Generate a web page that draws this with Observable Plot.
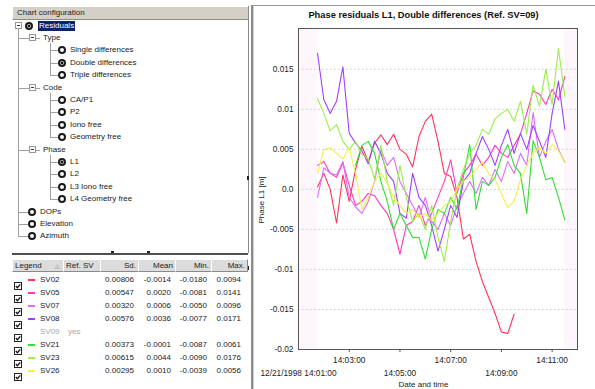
<!DOCTYPE html>
<html><head><meta charset="utf-8">
<script src="https://cdn.jsdelivr.net/npm/d3@7"></script>
<script src="https://cdn.jsdelivr.net/npm/@observablehq/plot@0.6"></script>
<style>
body{margin:0;width:595px;height:389px;overflow:hidden;background:#fff;font-family:"Liberation Sans",Arial,sans-serif;position:relative;color:#222}
.a{position:absolute;white-space:nowrap}
.t{font-size:8px;line-height:10px}
.radio{position:absolute;width:4px;height:4px;border:2px solid #1a1a1a;border-radius:50%;background:#fff}
.radio.sel{background:radial-gradient(circle,#111 0 38%,#bbb 45% 100%)}
.hl{position:absolute;height:1px;background:#a0a0a0}
.vl{position:absolute;width:1px;background:#a0a0a0}
.box{position:absolute;width:5px;height:5px;border:1px solid #999;background:#fff}
.box::after{content:"";position:absolute;left:1px;top:2px;width:3px;height:1px;background:#333}
.hdr{position:absolute;top:259px;height:11px;background:#dcdcdc;border-right:1px solid #8a8a8a;border-bottom:1px solid #8a8a8a;border-top:1px solid #fff;font-size:8px;line-height:11px;box-sizing:content-box}
</style></head><body>
<script>
// ---------- chart data ----------
const times = ["14:01:45","14:02:00","14:02:15","14:02:30","14:02:45","14:03:00","14:03:15","14:03:30","14:03:45","14:04:00",
"14:04:15","14:04:30","14:04:45","14:05:00","14:05:15","14:05:30","14:05:45","14:06:00","14:06:15","14:06:30",
"14:06:45","14:07:00","14:07:15","14:07:30","14:07:45","14:08:00","14:08:15","14:08:30","14:08:45","14:09:00",
"14:09:15","14:09:30","14:09:45","14:10:00","14:10:15","14:10:30","14:10:45","14:11:00","14:11:15","14:11:30"];
const sv02 = [0.0003,0.0020,0.0000,-0.0042,0.0018,-0.0015,0.0025,0.0054,0.0035,0.0058,0.0068,0.0056,0.0069,0.0050,0.0044,0.0028,0.0066,0.0085,0.0094,0.0060,0.0020,0.0016,-0.0010,-0.0062,-0.0056,-0.0090,-0.0115,-0.0135,-0.0155,-0.0178,-0.0180,-0.0156];
const sv05 = [0.0030,0.0035,0.0020,0.0015,0.0033,0.0005,-0.0020,-0.0015,-0.0005,-0.0008,-0.0020,-0.0030,-0.0050,-0.0081,-0.0045,-0.0040,-0.0020,-0.0045,-0.0030,-0.0010,0.0010,0.0037,-0.0005,0.0020,0.0030,0.0044,0.0030,0.0040,0.0055,0.0045,0.0040,0.0055,0.0069,0.0095,0.0123,0.0119,0.0106,0.0125,0.0112,0.0141];
const sv07 = [-0.0010,0.0027,0.0020,0.0018,0.0035,-0.0010,-0.0022,-0.0030,-0.0015,0.0010,0.0050,0.0030,0.0040,0.0010,-0.0005,-0.0020,-0.0035,-0.0010,-0.0040,-0.0050,-0.0030,-0.0045,-0.0020,-0.0005,0.0010,-0.0005,0.0015,0.0005,0.0025,0.0010,0.0035,0.0020,0.0045,0.0030,0.0096,0.0040,0.0060,0.0075,0.0050,0.0034];
const sv08 = [0.0170,0.0112,0.0095,0.0110,0.0153,0.0070,0.0058,0.0048,0.0032,0.0060,0.0045,0.0020,0.0010,-0.0030,-0.0036,0.0020,-0.0010,-0.0020,-0.0045,-0.0077,-0.0050,-0.0020,-0.0035,0.0010,0.0020,0.0045,0.0066,0.0050,0.0030,0.0055,0.0075,0.0045,0.0070,0.0050,0.0080,0.0060,0.0040,0.0095,0.0135,0.0075];
const sv21 = [null,null,null,null,null,null,0.0030,0.0055,0.0060,0.0045,0.0010,-0.0015,-0.0050,-0.0030,-0.0045,-0.0060,-0.0060,-0.0087,-0.0050,-0.0025,-0.0030,-0.0010,-0.0025,0.0015,0.0056,-0.0025,0.0010,0.0005,0.0015,0.0040,0.0056,0.0030,0.0020,-0.0030,0.0061,0.0040,0.0012,0.0015,-0.0010,-0.0038];
const sv23 = [0.0113,0.0095,0.0073,0.0081,0.0060,0.0050,0.0060,0.0044,0.0038,0.0013,0.0055,0.0010,-0.0020,0.0030,-0.0010,-0.0040,-0.0030,-0.0050,-0.0020,-0.0060,-0.0090,-0.0040,0.0000,0.0025,0.0045,0.0055,0.0075,0.0069,0.0088,0.0095,0.0100,0.0085,0.0110,0.0069,0.0130,0.0104,0.0150,0.0106,0.0176,0.0116];
const sv26 = [0.0020,0.0050,0.0052,0.0045,0.0038,0.0052,0.0020,-0.0025,-0.0010,0.0010,0.0020,0.0008,-0.0010,-0.0020,-0.0030,-0.0025,-0.0035,-0.0030,-0.0039,-0.0030,-0.0020,-0.0015,0.0000,0.0010,0.0015,0.0025,0.0034,0.0020,0.0012,-0.0005,-0.0023,-0.0015,0.0012,0.0030,0.0045,0.0052,0.0045,0.0056,0.0048,0.0035];
const plotted = ["SV02","SV05","SV07","SV08","SV21","SV23","SV26"];
const plottedValues = [sv02,sv05,sv07,sv08,sv21,sv23,sv26];
const colors = ["#ff3358","#ff38c0","#dd6cff","#a040ff","#33dd33","#9cee48","#f6ee48"];
const yTicks = [-0.02,-0.015,-0.01,-0.005,0,0.005,0.01,0.015];
const xTickRow1 = ["14:03:00","14:07:00","14:11:00"];
const xTickRow2 = ["14:01:00","14:05:00","14:09:00"];
const xDomain = ["14:01:00","14:12:00"];
const yDomain = [-0.02,0.0201];
// legend table
const svNames = ["SV02","SV05","SV07","SV08","SV09","SV21","SV23","SV26"];
const refSV = ["","","","","yes","","",""];
const sdVals = ["0.00806","0.00547","0.00320","0.00576","","0.00373","0.00615","0.00295"];
const meanVals = ["-0.0014","0.0020","0.0006","0.0036","","-0.0001","0.0044","0.0010"];
const minVals = ["-0.0180","-0.0081","-0.0050","-0.0077","","-0.0087","-0.0090","-0.0039"];
const maxVals = ["0.0094","0.0141","0.0096","0.0171","","0.0061","0.0176","0.0056"];
// tree
const treeNodes = [["Residuals","root",true],["Type","group"],["Single differences","leaf2",false],["Double differences","leaf2",true],["Triple differences","leaf2",false],
["Code","group"],["CA/P1","leaf2"],["P2","leaf2"],["Iono free","leaf2"],["Geometry free","leaf2"],
["Phase","group"],["L1","leaf2",true],["L2","leaf2"],["L3 Iono free","leaf2"],["L4 Geometry free","leaf2"],
["DOPs","leaf1"],["Elevation","leaf1"],["Azimuth","leaf1"]];

// ---------- helpers ----------
const body = document.body;
function el(cls, css, text){const d=document.createElement("div");d.className=cls;Object.assign(d.style,css);if(text!=null)d.textContent=text;body.appendChild(d);return d;}
const px = v => v+"px";

// ---------- left panel ----------
el("a t",{left:"12px",top:"6px",background:"#d4d0c8",border:"1px solid #8a8a8a",borderTopColor:"#fff",borderLeftColor:"#fff",lineHeight:"12px",paddingLeft:"4px",boxSizing:"border-box",width:"237px",height:"14px"},"Chart configuration");
el("vl",{left:"248px",top:"6px",height:"247px",background:"#8a8a8a"});
const rowY = k => 25.5 + 12.4*k;
const lastY = rowY(treeNodes.length-1);
el("vl",{left:"18px",top:"29px",height:px(lastY-29)});
treeNodes.forEach((n,k)=>{
  const y = rowY(k), [label,kind,sel] = n;
  if(kind==="root"){
    el("box",{left:"15px",top:px(y-3.5)});
    el("radio"+(sel?" sel":""),{left:px(29-4),top:px(y-4)});
    el("a t",{left:"38px",top:px(y-5),background:"#0a246a",color:"#fff",padding:"0 1px"},label);
  } else if(kind==="group"){
    el("hl",{left:"18px",top:px(Math.round(y)),width:"11px"});
    el("box",{left:"29px",top:px(y-3.5)});
    el("hl",{left:"36px",top:px(Math.round(y)),width:"4px"});
    el("a t",{left:"43px",top:px(y-5)},label);
    let last = k; while(last+1<treeNodes.length && treeNodes[last+1][1]==="leaf2") last++;
    el("vl",{left:"50px",top:px(y+5),height:px(rowY(last)-y-5)});
  } else if(kind==="leaf2"){
    el("hl",{left:"50px",top:px(Math.round(y)),width:"8px"});
    el("radio"+(sel?" sel":""),{left:px(62-4),top:px(y-4)});
    el("a t",{left:"70px",top:px(y-5)},label);
  } else {
    el("hl",{left:"18px",top:px(Math.round(y)),width:"10px"});
    el("radio",{left:px(32-4),top:px(y-4)});
    el("a t",{left:"40px",top:px(y-5)},label);
  }
});
// splitter
el("a",{left:"12px",top:"253px",width:"236px",height:"2px",background:"#505050"});
el("a",{left:"111px",top:"251px",width:"3px",height:"2px",background:"#222"});
el("a",{left:"147px",top:"251px",width:"3px",height:"2px",background:"#222"});
el("a",{left:"247px",top:"176px",width:"2px",height:"4px",background:"#222"});
el("a",{left:"247px",top:"266px",width:"2px",height:"4px",background:"#222"});
// table header
const cols = [[12,63,"Legend","left"],[63,100,"Ref. SV","left"],[100,138,"Sd.","right"],[138,175,"Mean","right"],[175,211,"Min.","right"],[211,247,"Max.","right"]];
cols.forEach(([x0,x1,lab,al])=>{
  el("hdr",{left:px(x0),width:px(x1-x0-5),paddingLeft:"2px",paddingRight:"2px",textAlign:al,borderLeft:"1px solid #fff"},lab);
});
el("a",{left:"55px",top:"262px",fontSize:"6px",color:"#777"},"△");
// rows
const colRight = [134,171,207,241];
svNames.forEach((name,i)=>{
  const y = 280 + 13*i;
  const cb = el("a",{left:"14px",top:px(y-4),width:"8px",height:"8px"});
  cb.innerHTML = '<svg width="8" height="8"><rect x="0.5" y="0.5" width="7" height="7" fill="#fff" stroke="#222"/><path d="M1.8 4 L3.4 5.7 L6.3 2.3" stroke="#111" stroke-width="1.3" fill="none"/></svg>';
  const pi = plotted.indexOf(name);
  if(pi>=0) el("a",{left:"28px",top:px(y-1),width:"7px",height:"2px",background:colors[pi]});
  const gray = pi<0;
  el("a t",{left:"40px",top:px(y-5),color:gray?"#aaa":"#222"},name);
  if(refSV[i]) el("a t",{left:"68px",top:px(y-5),color:"#aaa"},refSV[i]);
  [sdVals[i],meanVals[i],minVals[i],maxVals[i]].forEach((v,c)=>{
    if(v) el("a t",{left:px(colRight[c]-40),width:"40px",textAlign:"right",top:px(y-5)},v);
  });
});

// ---------- right panel ----------
el("a",{left:"251px",top:"5px",width:"344px",height:"384px",borderLeft:"2px solid #8a8a8a",borderTop:"1px solid #9a9a9a",boxSizing:"border-box"});
el("a",{left:"253px",top:"6px",width:"1px",height:"383px",background:"#d0d0d0"});
el("a",{left:"252px",width:"343px",top:"10px",textAlign:"center",fontSize:"9.3px",fontWeight:"bold",color:"#111"},"Phase residuals L1, Double differences (Ref. SV=09)");
el("a t",{left:"262px",top:"200px",transform:"translate(-50%,-50%) rotate(-90deg)",fontSize:"8px"},"Phase L1 [m]");
el("a t",{left:"252px",width:"343px",top:"380px",textAlign:"center",fontSize:"8px"},"Date and time");

const toDate = s => { const [h,m,sec] = s.split(":").map(Number); return new Date(Date.UTC(1998,11,21,h,m,sec)); };
const rows = [];
plotted.forEach((sv,si)=>{
  plottedValues[si].forEach((v,i)=>{ if(v!=null) rows.push({sv, t:toDate(times[i]), v}); });
});
const fmt = d3.utcFormat("%H:%M:%S");
const row1 = xTickRow1.map(toDate), row2 = xTickRow2.map(toDate);
const tickMarks = [...row1, ...row2].filter(d => +d !== +toDate(xDomain[0]));
const chart = Plot.plot({
  width:343, height:389,
  marginLeft:46, marginRight:18, marginTop:28, marginBottom:40,
  x:{type:"utc", domain:xDomain.map(toDate), label:null},
  y:{domain:yDomain, label:null},
  color:{domain:plotted, range:colors},
  style:{position:"absolute", left:"252px", top:"0px", background:"transparent", fontFamily:"Liberation Sans, Arial, sans-serif", fontSize:"8.3px", color:"#222", overflow:"visible"},
  marks:[
    Plot.frame({fill:"#fdf6fd"}),
    Plot.rect([rows], {x1:()=>toDate(times[0]), x2:()=>toDate(times[times.length-1]), y1:()=>yDomain[0], y2:()=>yDomain[1], fill:"#fff"}),
    Plot.ruleY(yTicks.filter(d=>d>yDomain[0]), {stroke:"#c8c8c8", strokeDasharray:"1.5,2.5"}),
    Plot.line(rows, {x:"t", y:"v", z:"sv", stroke:"sv", strokeWidth:1.1}),
    Plot.frame({stroke:"#555"}),
    Plot.axisY(yTicks, {tickSize:0, tickPadding:5, tickFormat:d => d===0 ? "0.0" : String(d), label:null}),
    Plot.axisX(tickMarks, {tickSize:3, tickFormat:() => "", label:null, stroke:"#555"}),
    Plot.axisX(row1, {tickSize:0, tickPadding:8, tickFormat:fmt, label:null}),
    Plot.axisX(row2, {tickSize:0, tickPadding:21, tickFormat:d => (+d === +toDate(xDomain[0]) ? "12/21/1998 " : "") + fmt(d), label:null})
  ]
});
body.appendChild(chart);
</script>
</body></html>
